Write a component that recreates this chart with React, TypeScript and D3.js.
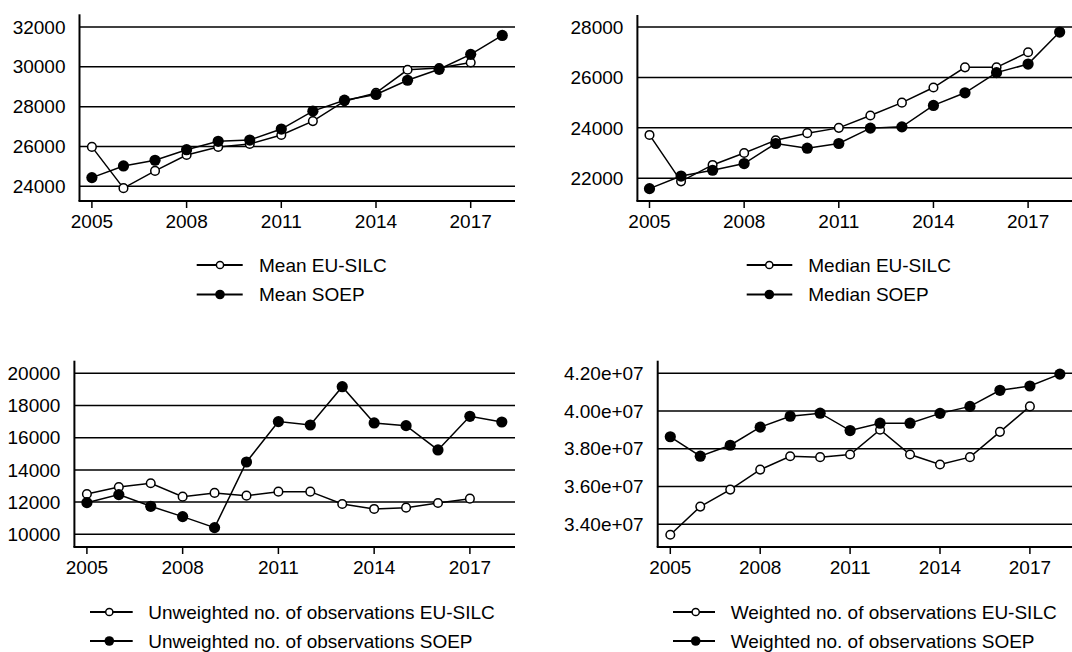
import React from "react";
import * as d3 from "d3";

const years = [2005, 2006, 2007, 2008, 2009, 2010, 2011, 2012, 2013, 2014, 2015, 2016, 2017, 2018];
const xTicks = [2005, 2008, 2011, 2014, 2017];

const meanEU = [25980, 23910, 24775, 25575, 25975, 26125, 26575, 27275, 28275, 28690, 29850, 29935, 30215];
const meanSOEP = [24440, 25025, 25310, 25840, 26260, 26325, 26875, 27775, 28325, 28610, 29325, 29875, 30625, 31575];

const medianEU = [23720, 21880, 22530, 23005, 23510, 23790, 24000, 24490, 25000, 25600, 26400, 26400, 27000];
const medianSOEP = [21590, 22090, 22320, 22585, 23380, 23195, 23380, 23990, 24040, 24890, 25390, 26190, 26530, 27800];

const unwEU = [12505, 12940, 13170, 12340, 12570, 12400, 12650, 12650, 11885, 11575, 11655, 11945, 12215];
const unwSOEP = [11965, 12465, 11740, 11100, 10415, 14490, 17000, 16790, 19170, 16915, 16750, 15240, 17330, 16975];

const wEU = [33.45e6, 34.94e6, 35.84e6, 36.9e6, 37.61e6, 37.56e6, 37.7e6, 39.01e6, 37.7e6, 37.17e6, 37.56e6, 38.9e6, 40.25e6];
const wSOEP = [38.64e6, 37.61e6, 38.19e6, 39.15e6, 39.73e6, 39.89e6, 38.97e6, 39.36e6, 39.36e6, 39.88e6, 40.25e6, 41.1e6, 41.33e6, 41.96e6];

const meanTicks = [24000, 26000, 28000, 30000, 32000];
const medianTicks = [22000, 24000, 26000, 28000];
const unwTicks = [10000, 12000, 14000, 16000, 18000, 20000];
const wTicks = [34e6, 36e6, 38e6, 40e6, 42e6];

const intFmt = (d: number) => String(d);
const sciFmt = (d: number) => {
  const s = d3.format(".2e")(d);
  return s.replace(/e([+-])(\d)$/, "e$10$2");
};

const FONT = "'Liberation Sans', Arial, Helvetica, sans-serif";

type PanelCfg = {
  eu: number[];
  soep: number[];
  xr: [number, number];
  axisX: number;
  rightEnd: number;
  yTop: number;
  yBottom: number;
  yDomain: [number, number];
  yTicks: number[];
  fmt: (d: number) => string;
  legendEU: string;
  legendSOEP: string;
  legLine: [number, number];
  legMarker: number;
  legText: number;
  legY: [number, number];
};

const panels: PanelCfg[] = [
  {
    eu: meanEU, soep: meanSOEP, xr: [91.9, 470.7], axisX: 79.5, rightEnd: 515,
    yTop: 14.3, yBottom: 201, yDomain: [23265, 32635], yTicks: meanTicks, fmt: intFmt,
    legendEU: "Mean EU-SILC", legendSOEP: "Mean SOEP",
    legLine: [196.7, 242.7], legMarker: 220, legText: 259, legY: [265, 294.5],
  },
  {
    eu: medianEU, soep: medianSOEP, xr: [649.5, 1028.1], axisX: 637.4, rightEnd: 1072,
    yTop: 15, yBottom: 201, yDomain: [21100, 28476], yTicks: medianTicks, fmt: intFmt,
    legendEU: "Median EU-SILC", legendSOEP: "Median SOEP",
    legLine: [746.7, 792.3], legMarker: 769.3, legText: 808.3, legY: [265, 294.5],
  },
  {
    eu: unwEU, soep: unwSOEP, xr: [86.9, 469.9], axisX: 74.4, rightEnd: 515,
    yTop: 360.7, yBottom: 547, yDomain: [9211, 20783], yTicks: unwTicks, fmt: intFmt,
    legendEU: "Unweighted no. of observations EU-SILC", legendSOEP: "Unweighted no. of observations SOEP",
    legLine: [90, 132.7], legMarker: 109.3, legText: 148.3, legY: [612, 641],
  },
  {
    eu: wEU, soep: wSOEP, xr: [670.3, 1029.9], axisX: 657.7, rightEnd: 1072,
    yTop: 360.7, yBottom: 547, yDomain: [32.8e6, 42.67e6], yTicks: wTicks, fmt: sciFmt,
    legendEU: "Weighted no. of observations EU-SILC", legendSOEP: "Weighted no. of observations SOEP",
    legLine: [673, 715], legMarker: 695.7, legText: 730.7, legY: [612, 641],
  },
];

function Panel({ p }: { p: PanelCfg }) {
  const x = d3.scaleLinear().domain([2005, 2017]).range(p.xr);
  const y = d3.scaleLinear().domain(p.yDomain).range([p.yBottom, p.yTop]);
  const line = d3
    .line<number>()
    .x((_, i) => x(years[i]))
    .y((d) => y(d));
  return (
    <g>
      {p.yTicks.map((t) => (
        <g key={t}>
          <line x1={p.axisX} x2={p.rightEnd} y1={y(t)} y2={y(t)} stroke="#000" strokeWidth={1.5} />
          <text
            x={p.axisX - 14}
            y={y(t)}
            dy="0.35em"
            textAnchor="end"
            fontSize={19}
            fontFamily={FONT}
            fill="#000"
          >
            {p.fmt(t)}
          </text>
        </g>
      ))}
      <line x1={p.axisX} x2={p.axisX} y1={p.yTop} y2={p.yBottom} stroke="#000" strokeWidth={2} />
      <line x1={p.axisX - 1} x2={p.rightEnd} y1={p.yBottom} y2={p.yBottom} stroke="#000" strokeWidth={2} />
      {xTicks.map((t) => (
        <g key={t}>
          <line x1={x(t)} x2={x(t)} y1={p.yBottom} y2={p.yBottom + 7} stroke="#000" strokeWidth={1.5} />
          <text
            x={x(t)}
            y={p.yBottom + 27}
            textAnchor="middle"
            fontSize={19}
            fontFamily={FONT}
            fill="#000"
          >
            {t}
          </text>
        </g>
      ))}
      <path d={line(p.eu) || ""} fill="none" stroke="#000" strokeWidth={1.5} />
      {p.eu.map((v, i) => (
        <circle key={"e" + i} cx={x(years[i])} cy={y(v)} r={4.3} fill="#fff" stroke="#000" strokeWidth={1.5} />
      ))}
      <path d={line(p.soep) || ""} fill="none" stroke="#000" strokeWidth={1.5} />
      {p.soep.map((v, i) => (
        <circle key={"s" + i} cx={x(years[i])} cy={y(v)} r={5.6} fill="#000" />
      ))}
      {/* legend */}
      <line x1={p.legLine[0]} x2={p.legLine[1]} y1={p.legY[0]} y2={p.legY[0]} stroke="#000" strokeWidth={2} />
      <circle cx={p.legMarker} cy={p.legY[0]} r={3.6} fill="#fff" stroke="#000" strokeWidth={1.5} />
      <text x={p.legText} y={p.legY[0]} dy="0.35em" fontSize={19} fontFamily={FONT} fill="#000">
        {p.legendEU}
      </text>
      <line x1={p.legLine[0]} x2={p.legLine[1]} y1={p.legY[1]} y2={p.legY[1]} stroke="#000" strokeWidth={2} />
      <circle cx={p.legMarker} cy={p.legY[1]} r={4.8} fill="#000" />
      <text x={p.legText} y={p.legY[1]} dy="0.35em" fontSize={19} fontFamily={FONT} fill="#000">
        {p.legendSOEP}
      </text>
    </g>
  );
}

export default function App() {
  return (
    <svg
      width={1072}
      height={652}
      style={{ position: "absolute", left: 0, top: 0, background: "#fff" }}
    >
      <rect width={1072} height={652} fill="#fff" />
      {panels.map((p, i) => (
        <Panel key={i} p={p} />
      ))}
    </svg>
  );
}
